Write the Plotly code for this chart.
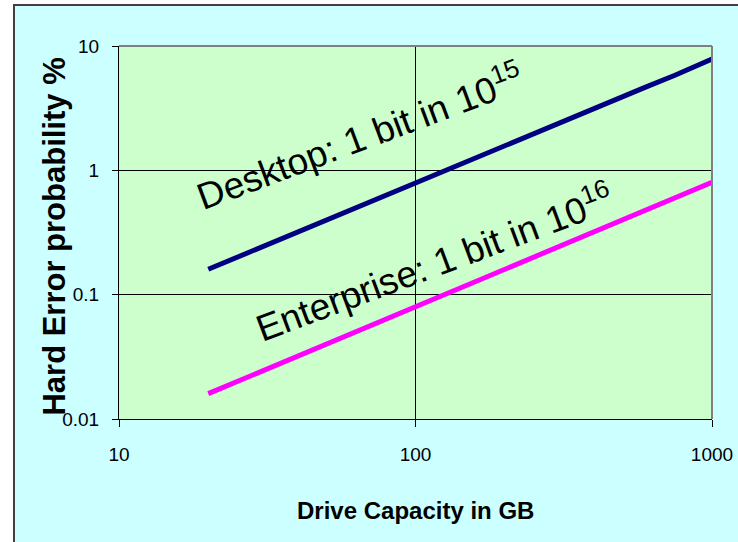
import plotly.graph_objects as go

# Drive capacity (GB) and hard-error probability (%) for each drive class
capacity_gb = [20, 40, 60, 80, 100, 120, 160, 200, 250, 300, 400, 500, 600, 750, 1000]
desktop_pct = [0.16, 0.32, 0.48, 0.64, 0.80, 0.96, 1.27, 1.59, 1.98, 2.37, 3.15, 3.92, 4.69, 5.82, 7.85]
enterprise_pct = [0.016, 0.032, 0.048, 0.064, 0.080, 0.096, 0.128, 0.160, 0.200, 0.240, 0.320, 0.399, 0.479, 0.598, 0.80]

x_ticks = [10, 100, 1000]
x_tick_text = ["10", "100", "1000"]
y_ticks = [0.01, 0.1, 1, 10]
y_tick_text = ["0.01", "0.1", "1", "10"]

desktop_label = "Desktop: 1 bit in 10<sup>15</sup>"
enterprise_label = "Enterprise: 1 bit in 10<sup>16</sup>"
x_title = "Drive Capacity in GB"
y_title = "Hard Error probability %"

SANS = "Liberation Sans, Arial, sans-serif"

fig = go.Figure()
fig.add_trace(go.Scatter(x=capacity_gb, y=desktop_pct, mode="lines",
                         line=dict(color="#000080", width=5), showlegend=False))
fig.add_trace(go.Scatter(x=capacity_gb, y=enterprise_pct, mode="lines",
                         line=dict(color="#FF00FF", width=5), showlegend=False))

fig.update_xaxes(type="log", range=[1, 3], tickvals=x_ticks, ticktext=x_tick_text,
                 showgrid=True, gridcolor="#000000", gridwidth=1,
                 showline=True, linecolor="#000000", linewidth=1,
                 ticks="outside", ticklen=7, tickcolor="#000000",
                 ticklabelstandoff=11, automargin=False,
                 tickfont=dict(family=SANS, size=19, color="#000000"),
                 zeroline=False)
fig.update_yaxes(type="log", range=[-2, 1], tickvals=y_ticks, ticktext=y_tick_text,
                 showgrid=True, gridcolor="#000000", gridwidth=1,
                 showline=True, linecolor="#000000", linewidth=1,
                 ticks="outside", ticklen=6, tickcolor="#000000",
                 ticklabelstandoff=9, automargin=False,
                 tickfont=dict(family=SANS, size=19, color="#000000"),
                 zeroline=False)

shapes = [
    # white surround outside the chart frame
    dict(type="rect", xref="paper", yref="paper", x0=-0.5, x1=-0.1771, y0=-0.5, y1=1.5,
         fillcolor="#FFFFFF", line=dict(width=0), layer="below"),
    dict(type="rect", xref="paper", yref="paper", x0=-0.5, x1=1.5, y0=1.1099, y1=1.5,
         fillcolor="#FFFFFF", line=dict(width=0), layer="below"),
    # chart frame
    dict(type="rect", xref="paper", yref="paper", x0=-0.1771, x1=1.2, y0=-0.5, y1=1.1099,
         fillcolor="rgba(0,0,0,0)", line=dict(color="#404040", width=2), layer="above"),
    # grey top and right edges of the plot area
    dict(type="line", xref="x domain", yref="y domain", x0=0, x1=1, y0=1, y1=1,
         line=dict(color="#808080", width=2), layer="above"),
    dict(type="line", xref="x domain", yref="y domain", x0=1, x1=1, y0=0, y1=1,
         line=dict(color="#808080", width=2), layer="above"),
]

annotations = [
    dict(text=desktop_label, xref="paper", yref="paper", x=0.407, y=0.759,
         xanchor="center", yanchor="middle",
         showarrow=False, textangle=-20.5, font=dict(family=SANS, size=37, color="#000000")),
    dict(text=enterprise_label, xref="paper", yref="paper", x=0.532, y=0.422,
         xanchor="center", yanchor="middle",
         showarrow=False, textangle=-20.5, font=dict(family=SANS, size=37, color="#000000")),
    dict(text="<b>" + x_title + "</b>", xref="paper", yref="paper", x=0.50, y=-0.245,
         xanchor="center", yanchor="middle", showarrow=False,
         font=dict(family=SANS, size=24, color="#000000")),
    dict(text="<b>" + y_title + "</b>", xref="paper", yref="paper", x=-0.108, y=0.489,
         xanchor="center", yanchor="middle", showarrow=False, textangle=-90,
         font=dict(family=SANS, size=31, color="#000000")),
]

fig.update_layout(
    width=738, height=542,
    margin=dict(l=119, r=26, t=46, b=123),
    paper_bgcolor="#CCFFFF",
    plot_bgcolor="#CCFFCC",
    shapes=shapes,
    annotations=annotations,
    showlegend=False,
)

fig.write_html("out.html")
